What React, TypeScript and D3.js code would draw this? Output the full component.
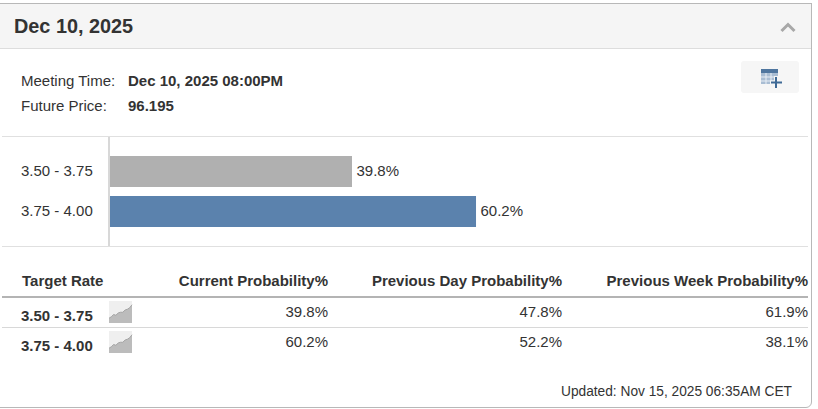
import React, { useEffect, useRef } from 'react';
import * as d3 from 'd3';

const targetRates = ['3.50 - 3.75', '3.75 - 4.00'];
const currentProb = [39.8, 60.2];
const previousDayProb = [47.8, 52.2];
const previousWeekProb = [61.9, 38.1];
const barColors = ['#b0b0b0', '#5b82ad'];
const sparkValues = [1, 3, 6, 5, 8, 9, 9, 12, 13, 15, 19];

const columns = [
  { title: 'Current Probability%', x: 328, values: currentProb },
  { title: 'Previous Day Probability%', x: 562, values: previousDayProb },
  { title: 'Previous Week Probability%', x: 808, values: previousWeekProb },
];

const textColor = '#333333';
const font = '"Liberation Sans", Arial, sans-serif';

const App = () => {
  const ref = useRef<SVGSVGElement>(null);

  useEffect(() => {
    const svg = d3.select(ref.current);
    svg.selectAll('*').remove();
    svg.style('font-family', font);

    const line = (x1: number, y1: number, x2: number, y2: number, color: string, w = 1) =>
      svg.append('line').attr('x1', x1).attr('y1', y1).attr('x2', x2).attr('y2', y2)
        .attr('stroke', color).attr('stroke-width', w);
    const text = (s: string, x: number, y: number, size = 15, weight = 'normal', anchor = 'start') =>
      svg.append('text').attr('x', x).attr('y', y).attr('font-size', size)
        .attr('font-weight', weight).attr('text-anchor', anchor).attr('fill', textColor).text(s);

    // panel
    svg.append('rect').attr('x', 0).attr('y', 3).attr('width', 811).attr('height', 45).attr('fill', '#f5f5f5');
    line(0, 3.5, 811, 3.5, '#b8b8b8');
    line(0, 48.5, 811, 48.5, '#dddddd');
    svg.append('path').attr('d', 'M811.5,3V402a5.5,5.5 0 0 1 -5.5,5.5H0').attr('fill', 'none').attr('stroke', '#b8b8b8');

    text('Dec 10, 2025', 14, 33, 19.85, 'bold');
    svg.append('path').attr('d', 'M781.5,31L788,24.5L794.5,31').attr('fill', 'none').attr('stroke', '#a8a8a8').attr('stroke-width', 3);

    text('Meeting Time:', 21, 86);
    text('Dec 10, 2025 08:00PM', 128, 86, 15, 'bold');
    text('Future Price:', 21, 111);
    text('96.195', 128, 111, 15, 'bold');

    // table icon button
    svg.append('rect').attr('x', 741).attr('y', 61).attr('width', 58).attr('height', 32).attr('rx', 3).attr('fill', '#f6f6f6');
    svg.append('rect').attr('x', 761).attr('y', 69).attr('width', 17).attr('height', 15).attr('fill', '#a9bdd3');
    svg.append('rect').attr('x', 761).attr('y', 69).attr('width', 17).attr('height', 4).attr('fill', '#4f769f');
    [766, 771].forEach((x) => line(x, 73, x, 84, '#e8eef5'));
    [77, 81].forEach((y) => line(761, y, 778, y, '#e8eef5'));
    svg.append('path').attr('d', 'M776,76V89M770,82.5H783').attr('stroke', '#f6f6f6').attr('stroke-width', 4);
    svg.append('path').attr('d', 'M776,77V88M771,82.5H782').attr('stroke', '#3f6a96').attr('stroke-width', 2);

    // bars
    line(2, 136.5, 808, 136.5, '#e0e0e0');
    line(2, 246.5, 808, 246.5, '#e0e0e0');
    line(109, 137, 109, 246, '#d8d8d8', 2);

    const x = d3.scaleLinear().domain([0, 100]).range([110, 718]);
    const y = d3.scaleBand().domain(targetRates).range([151, 232]).paddingInner(0.225).paddingOuter(0.125);

    targetRates.forEach((r, i) => {
      const top = y(r) as number;
      const mid = top + y.bandwidth() / 2;
      svg.append('rect').attr('x', x(0)).attr('y', top).attr('width', x(currentProb[i]) - x(0))
        .attr('height', y.bandwidth()).attr('fill', barColors[i]);
      text(r, 21, mid + 4.5);
      text(`${currentProb[i].toFixed(1)}%`, x(currentProb[i]) + 4.5, mid + 4.5);
    });

    // table
    text('Target Rate', 22, 286, 15, 'bold');
    columns.forEach((c) => text(c.title, c.x, 286, 15, 'bold', 'end'));
    line(2, 297, 808, 297, '#b4b4b4', 2);
    line(2, 327.5, 808, 327.5, '#d8d8d8');

    const rowY = [321, 351];
    const valueY = [317, 347];
    const iconTop = [301, 331];
    const sx = d3.scaleLinear().domain([0, sparkValues.length - 1]).range([109, 132]);
    const sy = d3.scaleLinear().domain([0, 20]).range([18, 3]);

    targetRates.forEach((r, i) => {
      text(r, 21, rowY[i], 15, 'bold');
      const g = svg.append('g').attr('transform', `translate(0,${iconTop[i]})`);
      g.append('rect').attr('x', 109).attr('y', 0).attr('width', 23).attr('height', 22).attr('fill', '#efefef');
      const area = d3.area<number>().x((_, j) => sx(j)).y0(22).y1((d) => sy(d));
      g.append('path').attr('d', area(sparkValues)).attr('fill', '#bcbcbc');
      const l = d3.line<number>().x((_, j) => sx(j)).y((d) => sy(d));
      g.append('path').attr('d', l(sparkValues)).attr('fill', 'none').attr('stroke', '#a4a4a4');
      columns.forEach((c) => text(`${c.values[i].toFixed(1)}%`, c.x, valueY[i], 15, 'normal', 'end'));
    });

    text('Updated: Nov 15, 2025 06:35AM CET', 561, 396, 14)
      .attr('textLength', 231)
      .attr('lengthAdjust', 'spacingAndGlyphs');
  }, []);

  return (
    <svg
      ref={ref}
      width={818}
      height={409}
      style={{ position: 'absolute', left: 0, top: 0, background: '#fff' }}
    />
  );
};

export default App;
